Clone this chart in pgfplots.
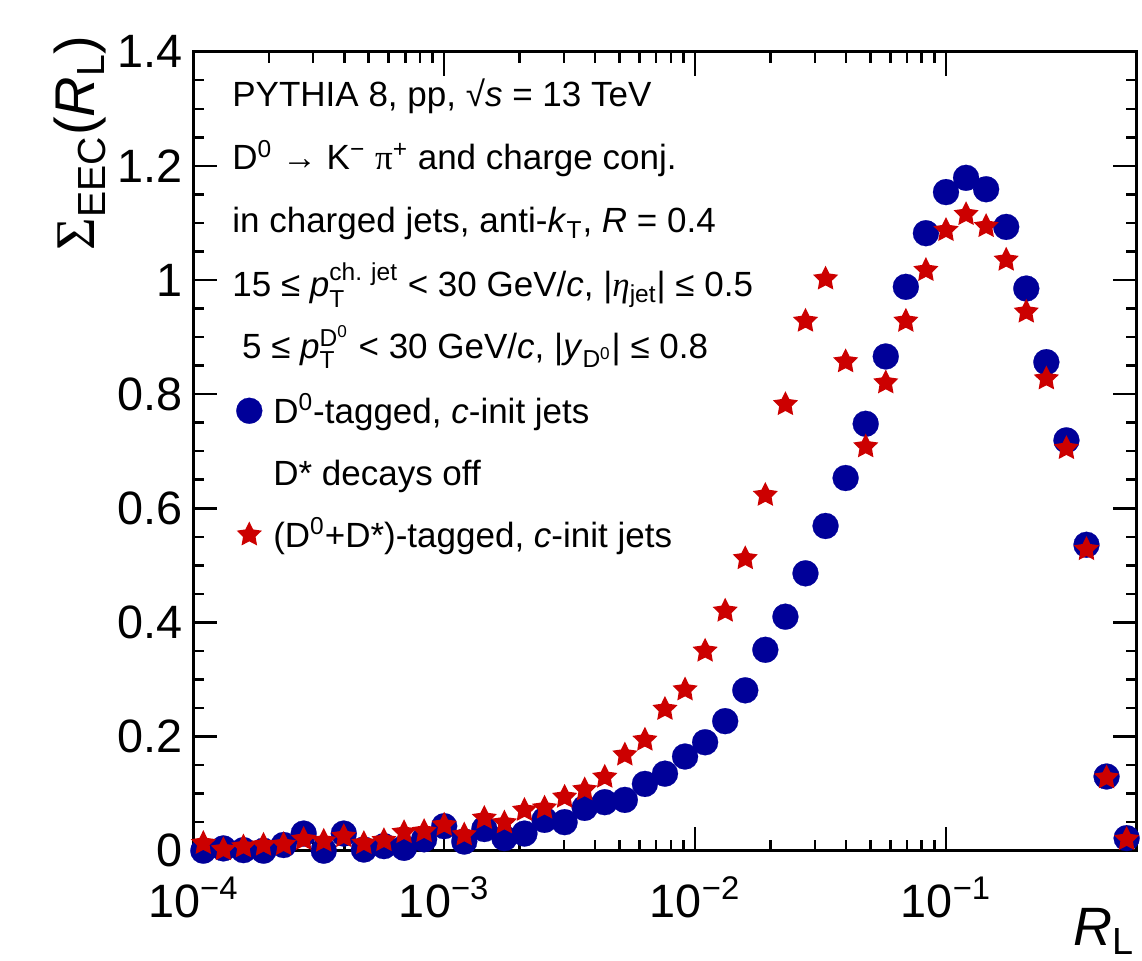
\documentclass[border=0pt]{standalone}
\usepackage{fontspec}
\setmainfont{Liberation Sans}
\newfontfamily\symf{Liberation Serif}
\usepackage{amsmath}
\usepackage{pgfplots}
\pgfplotsset{compat=1.18}
\definecolor{eecblue}{RGB}{0,0,153}
\definecolor{eecred}{RGB}{204,0,0}
\newdimen\innerstar
\pgfdeclareplotmark{fstar}{%
  \innerstar=0.5\pgfplotmarksize
  \pgfpathmoveto{\pgfqpointpolar{90}{\pgfplotmarksize}}%
  \pgfpathlineto{\pgfqpointpolar{126}{\innerstar}}%
  \pgfpathlineto{\pgfqpointpolar{162}{\pgfplotmarksize}}%
  \pgfpathlineto{\pgfqpointpolar{198}{\innerstar}}%
  \pgfpathlineto{\pgfqpointpolar{234}{\pgfplotmarksize}}%
  \pgfpathlineto{\pgfqpointpolar{270}{\innerstar}}%
  \pgfpathlineto{\pgfqpointpolar{306}{\pgfplotmarksize}}%
  \pgfpathlineto{\pgfqpointpolar{342}{\innerstar}}%
  \pgfpathlineto{\pgfqpointpolar{18}{\pgfplotmarksize}}%
  \pgfpathlineto{\pgfqpointpolar{54}{\innerstar}}%
  \pgfpathclose
  \pgfusepathqfill}
\pgfplotsset{pointlegend/.style={legend image code/.code={\draw[##1] plot coordinates {(0pt,0pt)};}}}

\pgfplotstableread{
x y
1.0965e-4 0.000
1.3183e-4 0.004
1.5849e-4 0.001
1.9055e-4 0.000
2.2909e-4 0.010
2.7542e-4 0.030
3.3113e-4 0.000
3.9811e-4 0.030
4.7863e-4 0.002
5.7544e-4 0.008
6.9183e-4 0.005
8.3176e-4 0.020
1.0000e-3 0.043
1.2023e-3 0.016
1.4454e-3 0.038
1.7378e-3 0.022
2.0893e-3 0.030
2.5119e-3 0.054
3.0200e-3 0.050
3.6308e-3 0.075
4.3652e-3 0.085
5.2481e-3 0.089
6.3096e-3 0.117
7.5858e-3 0.135
9.1201e-3 0.165
1.0965e-2 0.190
1.3183e-2 0.227
1.5849e-2 0.281
1.9055e-2 0.352
2.2909e-2 0.410
2.7542e-2 0.486
3.3113e-2 0.569
3.9811e-2 0.653
4.7863e-2 0.748
5.7544e-2 0.866
6.9183e-2 0.988
8.3176e-2 1.082
0.10000 1.154
0.12023 1.179
0.14454 1.159
0.17378 1.093
0.20893 0.985
0.25119 0.856
0.30200 0.719
0.36308 0.536
0.43652 0.130
0.52481 0.022
}\dzero

\pgfplotstableread{
x y
1.0965e-4 0.013
1.3183e-4 0.002
1.5849e-4 0.007
1.9055e-4 0.010
2.2909e-4 0.011
2.7542e-4 0.020
3.3113e-4 0.017
3.9811e-4 0.025
4.7863e-4 0.013
5.7544e-4 0.018
6.9183e-4 0.032
8.3176e-4 0.034
1.0000e-3 0.045
1.2023e-3 0.028
1.4454e-3 0.057
1.7378e-3 0.049
2.0893e-3 0.071
2.5119e-3 0.075
3.0200e-3 0.094
3.6308e-3 0.107
4.3652e-3 0.129
5.2481e-3 0.168
6.3096e-3 0.194
7.5858e-3 0.248
9.1201e-3 0.282
1.0965e-2 0.350
1.3183e-2 0.420
1.5849e-2 0.512
1.9055e-2 0.623
2.2909e-2 0.782
2.7542e-2 0.928
3.3113e-2 1.002
3.9811e-2 0.857
4.7863e-2 0.708
5.7544e-2 0.820
6.9183e-2 0.928
8.3176e-2 1.017
0.10000 1.087
0.12023 1.115
0.14454 1.094
0.17378 1.035
0.20893 0.944
0.25119 0.827
0.30200 0.705
0.36308 0.528
0.43652 0.128
0.52481 0.020
}\dstar

\begin{document}
\begin{tikzpicture}
\useasboundingbox (-96.65pt,-54.65pt) rectangle (474.35pt,425.35pt);
\begin{axis}[
  at={(0pt,0pt)}, anchor=south west,
  scale only axis, width=471.7pt, height=399.5pt,
  xmode=log, xmin=1e-4, xmax=0.57544, ymin=0, ymax=1.4,
  clip=false, axis on top,
  axis line style={line width=1.35pt},
  tick style={black, line width=1.25pt},
  tick align=inside, tick pos=both,
  major tick length=12pt, minor tick length=5.5pt,
  xtick={1e-4,1e-3,1e-2,1e-1},
  xticklabels={10\textsuperscript{−4},10\textsuperscript{−3},10\textsuperscript{−2},10\textsuperscript{−1}},
  ytick={0,0.2,0.4,0.6,0.8,1,1.2,1.4},
  yticklabels={0,0.2,0.4,0.6,0.8,1,1.2,1.4},
  minor y tick num=3,
  tick label style={font=\fontsize{23.4}{28}\selectfont},
  xticklabel style={anchor=base, inner sep=0pt, yshift=-33.5pt},
  yticklabel style={anchor=east, inner sep=0pt, xshift=-5pt},
  legend cell align=left,
  legend style={at={(axis description cs:0.0456,0.5675)}, anchor=north west,
    draw=none, fill=none, inner sep=0pt, outer sep=0pt,
    column sep=5.5pt, row sep=17.5pt,
    nodes={inner sep=0pt, text height=13pt, text depth=0.5pt,
      font=\fontsize{17.5}{21}\selectfont}},
]
\addplot[only marks, mark=*, mark size=6.5pt,
  mark options={fill=eecblue, draw=eecblue, line width=0.1pt},
  pointlegend]
  table[x=x,y=y] {\dzero};
\addlegendentry{D\textsuperscript{0}-tagged, \textit{c}-init jets}
\addlegendimage{empty legend}
\addlegendentry{D* decays off}
\addplot[only marks, mark=fstar, mark size=6.6pt,
  mark options={fill=eecred, draw=eecred},
  pointlegend]
  table[x=x,y=y] {\dstar};
\addlegendentry{(D\textsuperscript{0}+D*)-tagged, \textit{c}-init jets}
\end{axis}
\begin{scope}[every node/.style={anchor=base west, inner sep=0pt, font=\fontsize{17.5}{21}\selectfont}]
\node at (19.35pt,371.85pt) {PYTHIA 8, pp, √\textit{s} = 13 TeV};
\node at (19.35pt,340.35pt) {D\textsuperscript{0} → K\textsuperscript{−} {\symf π}\textsuperscript{+} and charge conj.};
\node at (19.35pt,308.85pt) {in charged jets, anti-\textit{k}\textsubscript{T}, \textit{R} = 0.4};
\node at (19.35pt,276.85pt) {15 ≤ $\textit{p}_{\text{T}}^{\text{ch. jet}}$ < 30 GeV/\textit{c}, |{\symf\itshape η}$_{\text{jet}}$| ≤ 0.5};
\node at (24.2pt,245.85pt) {5 ≤ $\textit{p}_{\text{T}}^{\text{D\textsuperscript{0}}}$ < 30 GeV/\textit{c}, |\textit{y}$_{\text{D\textsuperscript{0}}}$| ≤ 0.8};
\end{scope}
\node[rotate=90, anchor=base east, inner sep=0pt, font=\fontsize{28}{34}\selectfont] at (-49.15pt,407.85pt) {{\symf Σ}\textsubscript{EEC}(\textit{R}\textsubscript{L})};
\node[anchor=base east, inner sep=0pt, font=\fontsize{27}{32}\selectfont] at (471pt,-47.5pt) {\textit{R}\textsubscript{L}};
\end{tikzpicture}
\end{document}
